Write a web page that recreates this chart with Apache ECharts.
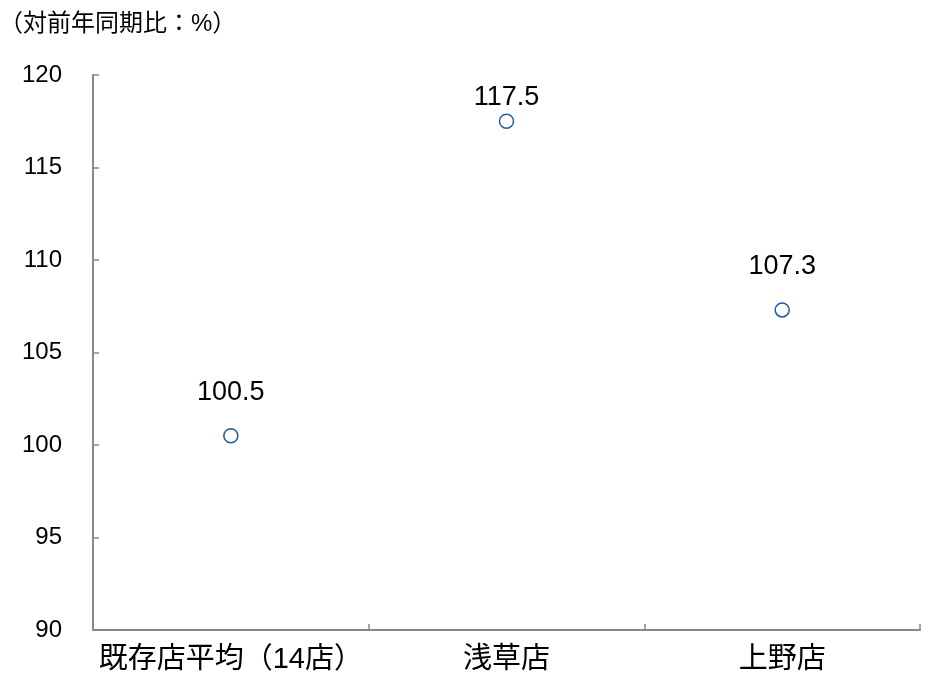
<!DOCTYPE html>
<html>
<head>
<meta charset="utf-8">
<script src="https://cdn.jsdelivr.net/npm/echarts@6/dist/echarts.min.js"></script>
<style>
html,body{margin:0;padding:0;background:#fff;}
#main{width:930px;height:677px;}
</style>
</head>
<body>
<div id="main"></div>
<script>
const categories = ['既存店平均（14店）', '浅草店', '上野店'];
const values = [100.5, 117.5, 107.3];
const unitLabel = '（対前年同期比：%）';
const yMin = 90, yMax = 120, yStep = 5;

const FONT = "'Liberation Sans', Arial, 'Noto Sans CJK JP', sans-serif";
const chart = echarts.init(document.getElementById('main'));
chart.setOption({
  animation: false,
  backgroundColor: '#fff',
  title: {
    text: unitLabel,
    left: -6, top: 7,
    textStyle: { fontFamily: FONT, fontSize: 24, fontWeight: 'normal', color: '#000' }
  },
  grid: { left: 93, right: 10, top: 75, bottom: 47, containLabel: false, outerBoundsMode: 'none' },
  xAxis: {
    type: 'category',
    data: categories,
    boundaryGap: true,
    axisLine: { show: true, lineStyle: { color: '#888', width: 2 } },
    axisTick: { show: true, inside: true, length: 6, interval: 0, lineStyle: { color: '#888', width: 1.5 } },
    axisLabel: { fontFamily: FONT, fontSize: 29, color: '#000', margin: 15, interval: 0 },
    splitLine: { show: false }
  },
  yAxis: {
    type: 'value',
    min: yMin, max: yMax, interval: yStep,
    axisLine: { show: true, lineStyle: { color: '#888', width: 2 } },
    axisTick: { show: true, inside: true, length: 6, lineStyle: { color: '#888', width: 1.5 } },
    axisLabel: { fontFamily: FONT, fontSize: 24, color: '#000', margin: 31 },
    splitLine: { show: false }
  },
  series: [{
    type: 'scatter',
    data: values.map((v, i) => ({
      value: v,
      // label near the top of the plot is pulled down to stay inside the plot area
      label: { distance: (v > yMax - 5) ? 2 : 22 }
    })),
    symbol: 'circle',
    symbolSize: 14,
    itemStyle: { color: '#fff', borderColor: '#1F5CA0', borderWidth: 1.5, opacity: 1 },
    label: {
      show: true, position: 'top',
      fontFamily: FONT, fontSize: 27, color: '#000',
      formatter: p => p.value.toFixed(1)
    }
  }]
});
</script>
</body>
</html>
